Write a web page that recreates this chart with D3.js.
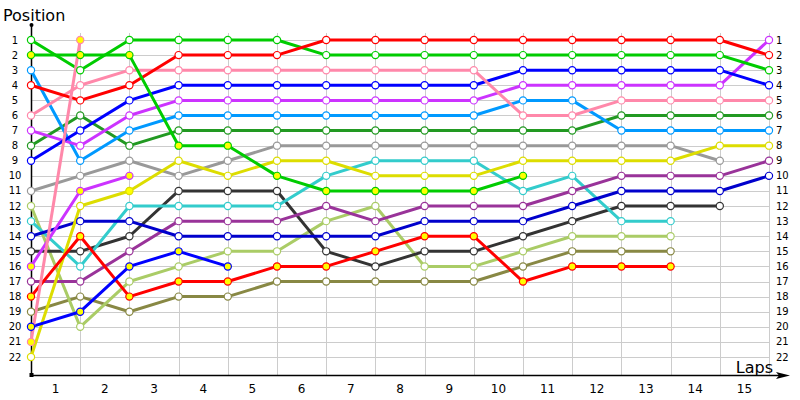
<!DOCTYPE html>
<html>
<head>
<meta charset="utf-8">
<script src="https://cdn.jsdelivr.net/npm/d3@7"></script>
<style>
  html, body { margin: 0; padding: 0; background: #fff; }
  svg { display: block; }
  text { font-family: "DejaVu Sans", Verdana, sans-serif; }
</style>
</head>
<body>
<svg id="chart" width="800" height="400"></svg>
<script>
// ---- data ----
const lapLabels = ["1","2","3","4","5","6","7","8","9","10","11","12","13","14","15"];
const positionLabels = [1,2,3,4,5,6,7,8,9,10,11,12,13,14,15,16,17,18,19,20,21,22];

// positions per lap (index 0 = grid, 1..15 = laps)
const driverGray      = [11,10,9,10,9,8,8,8,8,8,8,8,8,8,9];
const driverOlive     = [19,18,19,18,18,17,17,17,17,17,16,15,15,15];
const driverLightGreen= [12,20,17,16,15,15,13,12,16,16,15,14,14,14];
const driverBlack     = [15,15,14,11,11,11,15,16,15,15,14,13,12,12,12];
const driverCyan      = [13,16,12,12,12,12,10,9,9,9,11,10,13,13];
const driverPurple    = [17,17,15,13,13,13,12,13,12,12,12,11,10,10,10,9];
const driverNavy      = [14,13,13,14,14,14,14,14,13,13,13,12,11,11,11,10];
const driverYellow    = [22,12,11,9,10,9,9,10,10,10,9,9,9,9,8,8];
const driverDarkGreen = [8,6,8,7,7,7,7,7,7,7,7,7,6,6,6,6];
const driverLightBlue = [3,9,7,6,6,6,6,6,6,6,5,5,7,7,7,7];
const driverViolet    = [7,8,6,5,5,5,5,5,5,5,4,4,4,4,4,1];
const driverBlue      = [9,7,5,4,4,4,4,4,4,4,3,3,3,3,3,4];
const driverPink      = [6,4,3,3,3,3,3,3,3,3,6,6,5,5,5,5];
const driverGreen     = [1,3,1,1,1,1,2,2,2,2,2,2,2,2,2,3];
const driverRed       = [4,5,4,2,2,2,1,1,1,1,1,1,1,1,1,2];
const driverRed2      = [18,14,18,17,17,16,16,15,14,14,17,16,16,16];
const driverBlue2     = [20,19,16,15,16];
const driverViolet2   = [16,11,10];
const driverGreen2    = [2,2,2,8,8,10,11,11,11,11,10];
const driverPink2     = [21,1];

// laps where the marker is filled yellow
const yellowGreen2  = [0,1,2,3,4,5,6,7,8,9,10];
const yellowRed2    = [0,1,2,3,4,5,6,7,8,9,10,11,12,13];
const yellowBlue2   = [0,1,2,3,4];
const yellowViolet2 = [0,1,2];
const yellowPink2   = [0,1];
const yellowYellow  = [2];

const series = [
  {values: driverGray,       color: "#999999", filled: []},
  {values: driverOlive,      color: "#888844", filled: []},
  {values: driverLightGreen, color: "#aacc66", filled: []},
  {values: driverBlack,      color: "#333333", filled: []},
  {values: driverCyan,       color: "#33cccc", filled: []},
  {values: driverPurple,     color: "#993399", filled: []},
  {values: driverNavy,       color: "#0000cc", filled: []},
  {values: driverYellow,     color: "#dddd00", filled: yellowYellow},
  {values: driverDarkGreen,  color: "#229922", filled: []},
  {values: driverLightBlue,  color: "#0099ff", filled: []},
  {values: driverViolet,     color: "#cc33ff", filled: []},
  {values: driverBlue,       color: "#0000ff", filled: []},
  {values: driverPink,       color: "#ff88aa", filled: []},
  {values: driverRed2,       color: "#ff0000", filled: yellowRed2},
  {values: driverBlue2,      color: "#0000ff", filled: yellowBlue2},
  {values: driverViolet2,    color: "#cc33ff", filled: yellowViolet2},
  {values: driverGreen,      color: "#00cc00", filled: []},
  {values: driverRed,        color: "#ff0000", filled: []},
  {values: driverGreen2,     color: "#00cc00", filled: yellowGreen2},
  {values: driverPink2,      color: "#ff88aa", filled: yellowPink2}
];

// ---- layout ----
const svg = d3.select("#chart");
const x0 = 31, x1 = 769, yTop = 40, yBot = 357, axisY = 375;

const x = d3.scaleLinear().domain([0, lapLabels.length]).range([x0, x1]);
const y = d3.scaleLinear().domain([1, positionLabels.length]).range([yTop, yBot]);

// grid
const grid = svg.append("g").attr("stroke", "#cccccc").attr("stroke-width", 1);
grid.selectAll("line.h").data(positionLabels).join("line")
  .attr("x1", x0).attr("x2", x1)
  .attr("y1", d => Math.round(y(d)) + 0.5).attr("y2", d => Math.round(y(d)) + 0.5);
grid.selectAll("line.v").data(d3.range(1, lapLabels.length + 1)).join("line")
  .attr("x1", d => Math.round(x(d)) + 0.5).attr("x2", d => Math.round(x(d)) + 0.5)
  .attr("y1", 33).attr("y2", axisY);

// y labels left and right
svg.append("g").selectAll("text").data(positionLabels).join("text")
  .attr("x", 15).attr("y", d => y(d) + 3.5)
  .attr("text-anchor", "middle").attr("font-size", 10).attr("fill", "#000")
  .text(d => d);
svg.append("g").selectAll("text").data(positionLabels).join("text")
  .attr("x", 776).attr("y", d => y(d) + 3.5)
  .attr("text-anchor", "start").attr("font-size", 10).attr("fill", "#000")
  .text(d => d);

// x labels (centered between gridlines)
svg.append("g").selectAll("text").data(lapLabels).join("text")
  .attr("x", (d, i) => x(i + 0.5)).attr("y", 393)
  .attr("text-anchor", "middle").attr("font-size", 12).attr("fill", "#000")
  .text(d => d);

// axes
svg.append("line").attr("x1", x0 + 0.5).attr("x2", x0 + 0.5).attr("y1", 25).attr("y2", axisY)
  .attr("stroke", "#000").attr("stroke-width", 1.5);
svg.append("circle").attr("cx", x0 + 0.5).attr("cy", 25).attr("r", 2).attr("fill", "#000");
svg.append("rect").attr("x", x0 - 1.5).attr("y", axisY - 2).attr("width", 4).attr("height", 4).attr("fill", "#000");
svg.append("line").attr("x1", x0).attr("x2", 782).attr("y1", axisY + 0.5).attr("y2", axisY + 0.5)
  .attr("stroke", "#000").attr("stroke-width", 1.5);
svg.append("path").attr("d", `M776,${axisY - 3} L790,${axisY + 0.5} L776,${axisY + 4} L779,${axisY + 0.5} Z`).attr("fill", "#000");

// titles
svg.append("text").attr("x", 3).attr("y", 21).attr("font-size", 16).attr("fill", "#000").text("Position");
svg.append("text").attr("x", 773).attr("y", 373).attr("text-anchor", "end").attr("font-size", 16).attr("fill", "#000").text("Laps");

// lines
const line = d3.line().x((d, i) => x(i)).y(d => y(d));
const lines = svg.append("g");
series.forEach(s => {
  lines.append("path").datum(s.values)
    .attr("d", line).attr("fill", "none")
    .attr("stroke", s.color).attr("stroke-width", 3)
    .attr("stroke-linejoin", "round");
});
const marks = svg.append("g");
series.forEach(s => {
  marks.selectAll(null).data(s.values.map((v, i) => ({v, i}))).join("circle")
    .attr("cx", d => x(d.i)).attr("cy", d => y(d.v)).attr("r", 3.6)
    .attr("fill", d => s.filled.includes(d.i) ? "#ffff00" : "#ffffff")
    .attr("stroke", s.color).attr("stroke-width", 1.2);
});
</script>
</body>
</html>
